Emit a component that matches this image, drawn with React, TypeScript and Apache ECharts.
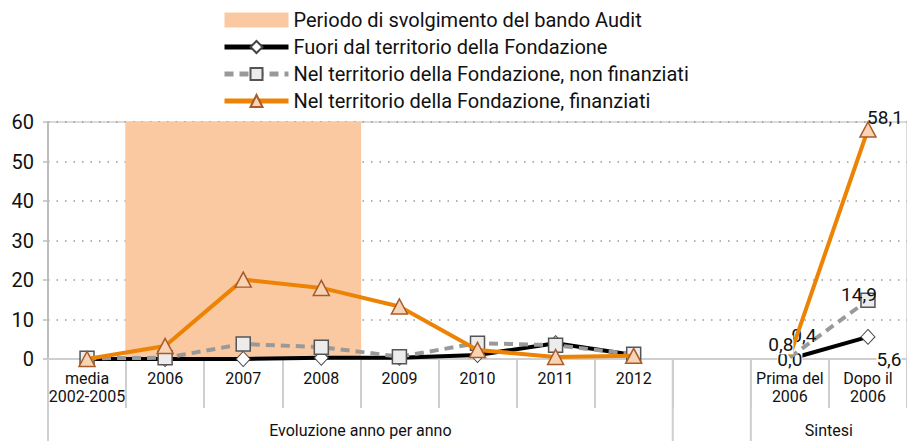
import React, { useEffect, useRef } from "react";
import * as echarts from "echarts";

const categories = [
  "media\n2002-2005",
  "2006",
  "2007",
  "2008",
  "2009",
  "2010",
  "2011",
  "2012",
  "",
  "Prima del\n2006",
  "Dopo il\n2006",
];
const periodName = "Periodo di svolgimento del bando Audit";
const periodBand = [null, 60, 60, 60, null, null, null, null, null, null, null];
const fuoriName = "Fuori dal territorio della Fondazione";
const fuori = [0, 0, 0, 0.3, 0.3, 1.0, 4.0, 1.0, null, 0.0, 5.6];
const nonFinName = "Nel territorio della Fondazione, non finanziati";
const nonFinanziati = [0.2, 0.3, 3.8, 3.0, 0.6, 4.0, 3.5, 1.2, null, 0.4, 14.9];
const finName = "Nel territorio della Fondazione, finanziati";
const finanziati = [0, 3.3, 20.1, 18.0, 13.3, 2.3, 0.5, 0.8, null, 0.8, 58.1];
const groupLabels = ["Evoluzione anno per anno", "Sintesi"];

const FONT = "Roboto, 'DejaVu Sans', sans-serif";
const fmt = (v: number) => v.toFixed(1).replace(".", ",");

function withLabels(values: (number | null)[], labelCfg: Record<number, any>, hideSymbol: number[]) {
  return values.map((v, i) => {
    if (!labelCfg[i]) return v;
    const item: any = {
      value: v,
      label: {
        show: true,
        formatter: (p: any) => fmt(p.value),
        fontSize: 19,
        fontFamily: FONT,
        color: "#111",
        backgroundColor: "#fff",
        ...labelCfg[i],
      },
    };
    if (hideSymbol.includes(i)) {
      item.symbolSize = 1;
      item.itemStyle = { color: "rgba(0,0,0,0)", borderColor: "rgba(0,0,0,0)" };
    }
    return item;
  });
}

export default function App() {
  const ref = useRef<HTMLDivElement>(null);
  useEffect(() => {
    if (!ref.current) return;
    const chart = echarts.init(ref.current, undefined, { renderer: "svg" });
    const option: any = {
      animation: false,
      textStyle: { fontFamily: FONT },
      legend: {
        orient: "vertical",
        left: 222,
        top: 10,
        padding: 0,
        itemWidth: 64,
        itemHeight: 15,
        itemGap: 7,
        lineStyle: { width: 5 },
        textStyle: { fontSize: 20, color: "#111", fontFamily: FONT, lineHeight: 20 },
        data: [
          { name: periodName, icon: "rect" },
          { name: fuoriName },
          { name: nonFinName },
          { name: finName },
        ],
      },
      grid: {
        left: 48,
        right: -4,
        top: 122,
        bottom: 82,
        containLabel: false,
        show: true,
        borderColor: "#d0d0d0",
        borderWidth: 1.5,
      },
      xAxis: {
        type: "category",
        data: categories,
        boundaryGap: true,
        axisLine: { show: true, lineStyle: { color: "#cfcfcf", width: 2 } },
        axisTick: { show: true, interval: 0, length: 49, lineStyle: { color: "#cfcfcf", width: 2 } },
        axisLabel: {
          interval: 0,
          fontSize: 16,
          lineHeight: 18,
          color: "#111",
          margin: 10,
          fontFamily: FONT,
        },
      },
      yAxis: {
        type: "value",
        min: 0,
        max: 60,
        interval: 10,
        axisLine: { show: true, lineStyle: { color: "#bdbdbd", width: 2 } },
        axisTick: { show: true, length: 5, lineStyle: { color: "#bdbdbd", width: 1.5 } },
        axisLabel: { fontSize: 20, color: "#111", margin: 14, fontFamily: FONT },
        splitLine: { show: true, lineStyle: { color: "#999", type: [1.5, 7], width: 1.5 } },
      },
      series: [
        {
          name: periodName,
          type: "bar",
          data: periodBand,
          barWidth: "102%",
          barCategoryGap: 0,
          itemStyle: { color: "#FAC9A1", borderWidth: 0 },
          silent: true,
          z: 1,
        },
        {
          name: fuoriName,
          type: "line",
          data: withLabels(
            fuori,
            {
              9: { position: "inside", offset: [0, 0] },
              10: { position: "bottom", offset: [21, 0] },
            },
            [9]
          ),
          connectNulls: false,
          lineStyle: { color: "#000", width: 4 },
          itemStyle: { color: "#fff", borderColor: "#444", borderWidth: 1 },
          symbol: "diamond",
          symbolSize: [14, 15],
          showAllSymbol: true,
          z: 3,
        },
        {
          name: nonFinName,
          type: "line",
          data: withLabels(
            nonFinanziati,
            {
              9: { position: "inside", offset: [14, -22], backgroundColor: "transparent" },
              10: { position: "inside", offset: [-9, -6], backgroundColor: "transparent" },
            },
            [9]
          ),
          connectNulls: false,
          lineStyle: { color: "#999", width: 4, type: [9, 6] },
          itemStyle: { color: "#ececec", borderColor: "#555", borderWidth: 1.5 },
          symbol: "rect",
          symbolSize: [14, 14],
          showAllSymbol: true,
          z: 4,
        },
        {
          name: finName,
          type: "line",
          data: withLabels(
            finanziati,
            {
              9: { position: "inside", offset: [-9, -11] },
              10: { position: "top", offset: [17, 11], backgroundColor: "transparent" },
            },
            [9]
          ),
          connectNulls: false,
          lineStyle: { color: "#EC8305", width: 4 },
          itemStyle: { color: "#FAD3B4", borderColor: "#A65B28", borderWidth: 1.5 },
          symbol: "triangle",
          symbolSize: [16, 15],
          showAllSymbol: true,
          z: 5,
        },
      ],
    };
    chart.setOption(option);

    const c0 = chart.convertToPixel({ xAxisIndex: 0 }, 0) as number;
    const c1 = chart.convertToPixel({ xAxisIndex: 0 }, 1) as number;
    const bw = c1 - c0;
    const boundary = (i: number) => c0 - bw / 2 + i * bw;
    const y0 = chart.convertToPixel({ yAxisIndex: 0 }, 0) as number;
    const sepStyle = { stroke: "#cfcfcf", lineWidth: 2 };
    const sepIdx = [0, 8, 9];
    const textStyle = {
      fontSize: 16,
      fontFamily: FONT,
      fill: "#111",
      textAlign: "center",
      textVerticalAlign: "middle",
    };
    chart.setOption({
      graphic: [
        ...sepIdx.map((i) => ({
          type: "line",
          shape: { x1: boundary(i), y1: y0, x2: boundary(i), y2: 441 },
          style: sepStyle,
          z: 0,
        })),
        {
          type: "text",
          x: (boundary(0) + boundary(8)) / 2,
          y: y0 + 71,
          style: { ...textStyle, text: groupLabels[0] },
        },
        {
          type: "text",
          x: (boundary(9) + boundary(11)) / 2,
          y: y0 + 71,
          style: { ...textStyle, text: groupLabels[1] },
        },
      ],
    });
    return () => chart.dispose();
  }, []);
  return (
    <div
      ref={ref}
      style={{ position: "fixed", left: 0, top: 0, width: 907, height: 441, background: "#fff" }}
    />
  );
}
